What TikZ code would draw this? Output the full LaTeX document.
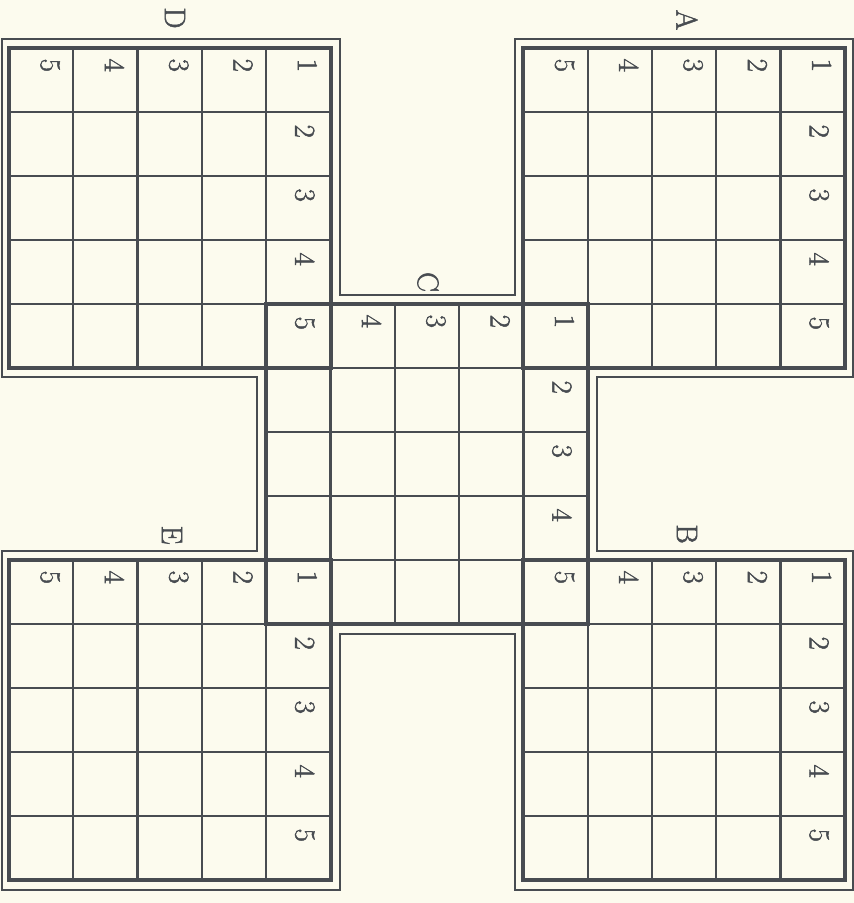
\documentclass[tikz,border=0pt]{standalone}
\usepackage{xcolor}
\usepackage{fontspec}
\newfontfamily\markfont[FakeBold=1.6]{Latin Modern Roman}
\definecolor{paper}{HTML}{FCFBEE}
\definecolor{ink}{HTML}{484C51}
\tikzset{
  gridline/.style={draw=ink, line width=2.3pt, line cap=rect},
  gridborder/.style={draw=ink, line width=4pt, line join=miter},
  frameline/.style={draw=ink, line width=2pt, line join=miter},
  num/.style={text=ink, inner sep=0pt, rotate=-90, font=\markfont\fontsize{29}{29}\selectfont},
  lbl/.style={text=ink, inner sep=0pt, rotate=-90, font=\markfont\fontsize{30}{30}\selectfont},
}
\newcommand\gridat[2]{%
  \begin{scope}[shift={(#1,#2)}]
    \foreach \k in {1,...,4} {
      \draw[gridline] (\k,0) -- (\k,5);
      \draw[gridline] (0,\k) -- (5,\k);
    }
    \draw[gridborder] (0,0) rectangle (5,5);
  \end{scope}}
\newcommand\toplabels[4]{% name, col, row, first index
  \foreach \i in {#4,...,4} {
    \pgfmathtruncatemacro\v{5-\i}
    \node[num] (#1t\v) at ({#2+\i+0.64},{#3+0.27}) {\v};
  }}
\newcommand\rightlabels[4]{% name, col, row, last index
  \foreach \j in {1,...,#4} {
    \pgfmathtruncatemacro\v{\j+1}
    \node[num] (#1r\v) at ({#2+4.60},{#3+\j+0.30}) {\v};
  }}
\begin{document}
\begin{tikzpicture}[x=1pt,y=-1pt]
\fill[paper] (0,0) rectangle (854,903);
\useasboundingbox (0,0) rectangle (854,903);
% outer frame
\draw[frameline] (2,39) -- (339.5,39) -- (339.5,295) -- (515,295) -- (515,39)
  -- (852.5,39) -- (852.5,377) -- (597,377) -- (597,551) -- (852.5,551)
  -- (852.5,890) -- (515,890) -- (515,634) -- (339.5,634) -- (339.5,890)
  -- (2,890) -- (2,551) -- (257,551) -- (257,377) -- (2,377) -- cycle;
\begin{scope}[shift={(9,48)}, x=64.3pt, y=-64pt]
  \gridat{0}{0}
  \gridat{8}{0}
  \gridat{4}{4}
  \gridat{0}{8}
  \gridat{8}{8}
  % labels
  \toplabels{D}{0}{0}{0}
  \rightlabels{D}{0}{0}{4}
  \toplabels{A}{8}{0}{0}
  \rightlabels{A}{8}{0}{4}
  \toplabels{C}{4}{4}{1}
  \rightlabels{C}{4}{4}{3}
  \toplabels{E}{0}{8}{0}
  \rightlabels{E}{0}{8}{4}
  \toplabels{B}{8}{8}{0}
  \rightlabels{B}{8}{8}{4}
\end{scope}
\node[lbl] (labD) at (175,18) {D};
\node[lbl] (labA) at (687,20) {A};
\node[lbl] (labC) at (428,282) {C};
\node[lbl] (labE) at (172,535) {E};
\node[lbl] (labB) at (687,534) {B};
\end{tikzpicture}
\end{document}
